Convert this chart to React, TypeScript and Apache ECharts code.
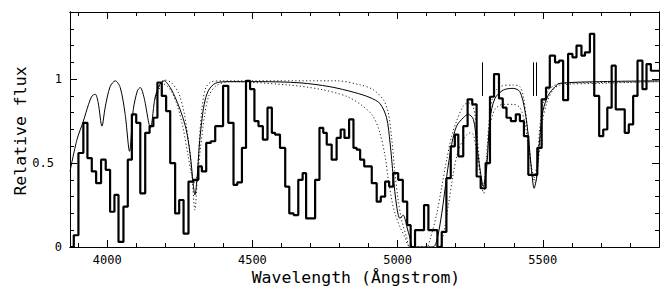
import React, { useEffect, useRef } from "react";
import * as echarts from "echarts";

// ---- data ----
const X_MIN = 3872;
const X_MAX = 5900;
const Y_MIN = 0;
const Y_MAX = 1.4;

// histogram (observed spectrum): left bin edges + final right edge
const binEdges = [
  3872, 3885, 3901, 3918, 3932, 3947, 3962, 3979, 3995, 4010, 4025, 4039, 4056, 4071, 4085, 4100,
  4114, 4131, 4146, 4159, 4173, 4188, 4203, 4217, 4234, 4248, 4263, 4280, 4297, 4314, 4326, 4341,
  4357, 4372, 4385, 4399, 4417, 4435, 4448, 4464, 4478, 4492, 4507, 4521, 4536, 4552, 4567, 4578,
  4595, 4613, 4627, 4642, 4658, 4673, 4685, 4700, 4716, 4731, 4744, 4756, 4773, 4790, 4804, 4817,
  4833, 4848, 4859, 4871, 4885, 4898, 4911, 4928, 4942, 4957, 4971, 4985, 5002, 5018, 5033, 5045,
  5060, 5075, 5091, 5106, 5122, 5137, 5152, 5168, 5183, 5197, 5209, 5226, 5241, 5257, 5272, 5286,
  5303, 5318, 5332, 5349, 5362, 5375, 5390, 5407, 5421, 5435, 5450, 5466, 5481, 5496, 5511, 5524,
  5542, 5556, 5570, 5587, 5602, 5616, 5633, 5645, 5662, 5677, 5694, 5708, 5722, 5737, 5751, 5767,
  5782, 5796, 5811, 5826, 5843, 5857, 5872, 5889, 5900,
];
const observedFlux = [
  0.0, 0.07, 0.56, 0.74, 0.53, 0.45, 0.38, 0.52, 0.46, 0.21, 0.31, 0.03, 0.24, 0.52, 0.79, 0.74,
  0.32, 0.68, 0.72, 0.77, 0.98, 0.9, 0.81, 0.5, 0.2, 0.28, 0.08, 0.39, 0.4, 0.48, 0.45, 0.62,
  0.63, 0.72, 0.72, 0.96, 0.74, 0.37, 0.385, 0.59, 0.99, 0.94, 0.75, 0.72, 0.64, 0.83, 0.68, 0.67,
  0.59, 0.36, 0.2, 0.19, 0.4, 0.44, 0.17, 0.17, 0.4, 0.71, 0.68, 0.61, 0.52, 0.65, 0.7, 0.65,
  0.76, 0.59, 0.58, 0.52, 0.48, 0.48, 0.38, 0.27, 0.3, 0.39, 0.36, 0.44, 0.4, 0.27, 0.13, 0.0,
  0.1, 0.1, 0.25, 0.1, 0.1, 0.0, 0.09, 0.41, 0.6, 0.67, 0.54, 0.72, 0.88, 0.85, 0.42, 0.35,
  0.5, 0.895, 1.03, 0.885, 0.83, 0.77, 0.75, 0.79, 0.75, 0.66, 0.43, 0.43, 0.59, 0.88, 0.95, 1.14,
  1.1, 1.11, 0.875, 1.15, 1.13, 1.2, 1.14, 1.16, 1.27, 0.9, 0.66, 0.7, 0.83, 1.08, 0.82, 0.82,
  0.68, 0.73, 0.9, 1.11, 0.94, 1.09, 1.05, 1.05,
];

// best-fit model (thin solid line)
const modelWave = [
  3872, 3896, 3918, 3936, 3948, 3959, 3969, 3982, 3993, 4010, 4028, 4045, 4062, 4077, 4090, 4104,
  4114, 4127, 4149, 4165, 4182, 4196, 4217, 4237, 4255, 4272, 4286, 4296, 4302, 4310, 4317, 4325,
  4334, 4348, 4372, 4413, 4526, 4664, 4767, 4853, 4905, 4939, 4962, 4974, 4985, 4997, 5008, 5019,
  5032, 5043, 5053, 5122, 5135, 5152, 5169, 5186, 5203, 5226, 5243, 5261, 5272, 5284, 5295, 5307,
  5318, 5335, 5364, 5398, 5421, 5438, 5450, 5461, 5470, 5479, 5490, 5501, 5519, 5542, 5559, 5696,
  5900,
];
const modelFlux = [
  0.45, 0.64, 0.75, 0.85, 0.9, 0.91, 0.86, 0.72, 0.83, 0.955, 0.99, 0.95, 0.79, 0.57, 0.82, 0.93,
  0.95, 0.89, 0.71, 0.89, 0.97, 0.99, 0.95, 0.88, 0.8, 0.7, 0.55, 0.38, 0.31, 0.42, 0.6, 0.74,
  0.85, 0.93, 0.975, 0.985, 0.985, 0.978, 0.955, 0.92, 0.89, 0.855, 0.77, 0.62, 0.42, 0.24, 0.17, 0.19,
  0.12, 0.05, 0.0, 0.0, 0.04, 0.2, 0.42, 0.61, 0.72, 0.77, 0.79, 0.76, 0.62, 0.46, 0.36, 0.48,
  0.76, 0.885, 0.935, 0.945, 0.925, 0.815, 0.66, 0.46, 0.35, 0.42, 0.66, 0.815, 0.905, 0.955, 0.975, 0.985,
  0.99,
];

// narrower model (dotted)
const narrowWave = [
  4165, 4182, 4196, 4220, 4245, 4265, 4282, 4293, 4302, 4310, 4318, 4328, 4340, 4360, 4400, 4790,
  4871, 4916, 4951, 4968, 4980, 4991, 5002, 5014, 5031, 5043, 5100, 5111, 5135, 5152, 5169, 5186,
  5203, 5226, 5243, 5261, 5272, 5281, 5289, 5297, 5307, 5318, 5330, 5352, 5398, 5421, 5433, 5444,
  5455, 5467, 5479, 5490, 5501, 5519, 5542, 5559, 5700, 5900,
];
const narrowFlux = [
  0.89, 0.97, 0.995, 0.98, 0.92, 0.8, 0.6, 0.4, 0.22, 0.4, 0.65, 0.85, 0.95, 0.985, 0.99, 0.99,
  0.966, 0.937, 0.877, 0.8, 0.64, 0.44, 0.28, 0.16, 0.06, 0.0, 0.0, 0.04, 0.2, 0.36, 0.52, 0.66,
  0.75, 0.84, 0.86, 0.83, 0.7, 0.52, 0.36, 0.32, 0.56, 0.8, 0.905, 0.955, 0.965, 0.955, 0.895, 0.756,
  0.56, 0.4, 0.48, 0.72, 0.855, 0.935, 0.965, 0.975, 0.98, 0.985,
];

// broader model (dotted)
const wideWave = [
  4165, 4182, 4196, 4220, 4240, 4260, 4278, 4292, 4302, 4312, 4322, 4335, 4350, 4375, 4420, 4618,
  4733, 4825, 4882, 4916, 4939, 4957, 4968, 4980, 4991, 5008, 5025, 5043, 5140, 5160, 5175, 5190,
  5205, 5226, 5249, 5261, 5272, 5286, 5295, 5307, 5318, 5335, 5364, 5398, 5421, 5438, 5450, 5465,
  5474, 5485, 5496, 5513, 5535, 5559, 5700, 5900,
];
const wideFlux = [
  0.88, 0.95, 0.97, 0.93, 0.85, 0.72, 0.55, 0.42, 0.38, 0.45, 0.6, 0.78, 0.9, 0.96, 0.985, 0.966,
  0.94, 0.897, 0.837, 0.778, 0.68, 0.54, 0.4, 0.28, 0.2, 0.12, 0.06, 0.0, 0.0, 0.1, 0.25, 0.42,
  0.55, 0.64, 0.68, 0.67, 0.56, 0.42, 0.38, 0.52, 0.72, 0.82, 0.85, 0.85, 0.83, 0.74, 0.6, 0.44,
  0.38, 0.52, 0.72, 0.855, 0.935, 0.965, 0.975, 0.985,
];

// vertical line markers
const markerWave = [5293, 5467, 5476];
const markerBottom = 0.9;
const markerTop = 1.1;

// axis ticks and labels
const xMajorTicks = [4000, 4500, 5000, 5500];
const xMinorTicks = [
  3900, 4000, 4100, 4200, 4300, 4400, 4500, 4600, 4700, 4800, 4900, 5000, 5100, 5200, 5300, 5400,
  5500, 5600, 5700, 5800, 5900,
];
const yMajorTicks = [0, 0.5, 1];
const yMinorTicks = [0, 0.1, 0.2, 0.3, 0.4, 0.5, 0.6, 0.7, 0.8, 0.9, 1, 1.1, 1.2, 1.3, 1.4];
const xTitle = "Wavelength (Ångstrom)";
const yTitle = "Relative flux";

const FONT = "DejaVu Sans Mono";

export default function App() {
  const ref = useRef<HTMLDivElement>(null);

  useEffect(() => {
    if (!ref.current) return;
    const chart = echarts.init(ref.current, null, { renderer: "svg" });

    const histData: number[][] = observedFlux.map((f, i) => [binEdges[i], f]);
    histData.push([binEdges[binEdges.length - 1], observedFlux[observedFlux.length - 1]]);
    const zip = (w: number[], f: number[]) => w.map((x, i) => [x, f[i]]);

    const line = { color: "#000", width: 1 };
    const plain = (v: number) => String(v);
    const yFmt = (v: number) => (Number.isInteger(v) ? String(v) : `{f|${v}}`);
    const xBase = (position: string, ticks: number[], len: number, labels: boolean) => ({
      type: "value",
      position,
      min: X_MIN,
      max: X_MAX,
      splitLine: { show: false },
      axisLine: { show: true, onZero: false, lineStyle: line },
      axisTick: { show: true, inside: true, length: len, customValues: ticks, lineStyle: line },
      axisLabel: labels
        ? {
            show: true,
            customValues: xMajorTicks,
            formatter: plain,
            margin: 7,
            color: "#000",
            fontFamily: FONT,
            fontSize: 12,
          }
        : { show: false },
    });
    const yBase = (position: string, ticks: number[], len: number, labels: boolean) => ({
      type: "value",
      position,
      min: Y_MIN,
      max: Y_MAX,
      splitLine: { show: false },
      axisLine: { show: true, onZero: false, lineStyle: line },
      axisTick: { show: true, inside: true, length: len, customValues: ticks, lineStyle: line },
      axisLabel: labels
        ? {
            show: true,
            customValues: yMajorTicks,
            formatter: yFmt,
            margin: 8,
            color: "#000",
            fontFamily: FONT,
            fontSize: 12,
            rich: {
              f: { fontFamily: FONT, fontSize: 12, color: "#000", padding: [0, 8, 0, 0] },
            },
          }
        : { show: false },
    });

    const dotted = { color: "#222", width: 1, type: [1.2, 2.4] };

    chart.setOption({
      animation: false,
      backgroundColor: "#fff",
      grid: { left: 70, top: 12, width: 589, height: 235, containLabel: false },
      xAxis: [
        xBase("bottom", xMajorTicks, 7, true),
        xBase("bottom", xMinorTicks, 4, false),
        xBase("top", xMajorTicks, 7, false),
        xBase("top", xMinorTicks, 4, false),
      ],
      yAxis: [
        yBase("left", yMajorTicks, 7, true),
        yBase("left", yMinorTicks, 4, false),
        yBase("right", yMajorTicks, 7, false),
        yBase("right", yMinorTicks, 4, false),
      ],
      series: [
        {
          name: "wide",
          type: "line",
          data: zip(wideWave, wideFlux),
          smooth: 0.3,
          symbol: "none",
          lineStyle: dotted,
          z: 2,
        },
        {
          name: "narrow",
          type: "line",
          data: zip(narrowWave, narrowFlux),
          smooth: 0.3,
          symbol: "none",
          lineStyle: dotted,
          z: 2,
        },
        {
          name: "model",
          type: "line",
          data: zip(modelWave, modelFlux),
          smooth: 0.3,
          symbol: "none",
          lineStyle: { color: "#000", width: 1 },
          z: 3,
        },
        {
          name: "observed",
          type: "line",
          data: histData,
          step: "end",
          symbol: "none",
          lineStyle: { color: "#000", width: 2.2 },
          z: 4,
          markLine: {
            silent: true,
            symbol: ["none", "none"],
            label: { show: false },
            lineStyle: { color: "#000", width: 1, type: "solid" },
            data: markerWave.map((w) => [
              { coord: [w, markerBottom] },
              { coord: [w, markerTop] },
            ]),
          },
        },
      ],
      graphic: [
        {
          type: "text",
          x: 356,
          y: 277,
          style: {
            text: xTitle,
            font: `16.5px "${FONT}"`,
            fill: "#000",
            align: "center",
            verticalAlign: "middle",
            textAlign: "center",
            textVerticalAlign: "middle",
          },
        },
        {
          type: "text",
          x: 20,
          y: 131,
          rotation: Math.PI / 2,
          style: {
            text: yTitle,
            font: `16.5px "${FONT}"`,
            fill: "#000",
            align: "center",
            verticalAlign: "middle",
            textAlign: "center",
            textVerticalAlign: "middle",
          },
        },
      ],
    });

    return () => chart.dispose();
  }, []);

  return (
    <div
      ref={ref}
      style={{ position: "absolute", left: 0, top: 0, width: 665, height: 287, background: "#fff" }}
    />
  );
}
